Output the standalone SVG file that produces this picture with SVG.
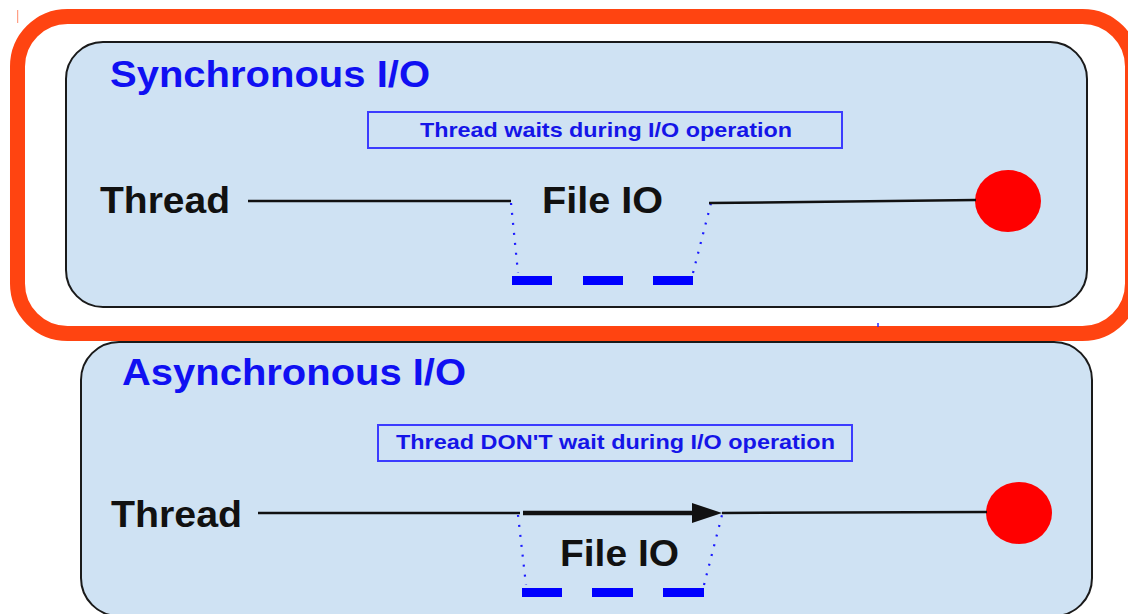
<svg xmlns="http://www.w3.org/2000/svg" width="1128" height="614" viewBox="0 0 1128 614">
  <defs>
    <style>
      .panel { fill: #cfe2f3; stroke: #1a1a1a; stroke-width: 2; }
      .title { font-family: "Liberation Sans", Arial, sans-serif; font-weight: bold; font-size: 37px; fill: #1010f2; }
      .note-box { fill: none; stroke: #3c3cff; stroke-width: 2; }
      .note { font-family: "Liberation Sans", Arial, sans-serif; font-weight: bold; font-size: 21px; fill: #1515e8; }
      .label { font-family: "Liberation Sans", Arial, sans-serif; font-weight: bold; font-size: 36px; fill: #111; }
      .wire { fill: none; stroke: #111; stroke-width: 2.5; }
      .wire-bold { fill: none; stroke: #111; stroke-width: 4.5; }
      .dots { fill: none; stroke: #1a1aff; stroke-width: 2.2; stroke-dasharray: 2 8; stroke-linecap: butt; }
      .io { fill: #0000ff; }
      .end { fill: #ff0000; }
    </style>
  </defs>

  <rect width="1128" height="614" fill="#ffffff"/>

  <!-- lower panel: asynchronous -->
  <g id="async-panel">
    <rect class="panel" x="81" y="342" width="1011" height="274" rx="38" ry="38"/>
    <text class="title" x="122" y="385" textLength="344" lengthAdjust="spacingAndGlyphs">Asynchronous I/O</text>
  </g>
  <g id="async-note">
    <rect class="note-box" x="378" y="425" width="474" height="36"/>
    <text class="note" x="396" y="449" textLength="439" lengthAdjust="spacingAndGlyphs">Thread DON'T wait during I/O operation</text>
  </g>
  <g id="async-thread">
    <text class="label" x="111" y="527" textLength="131" lengthAdjust="spacingAndGlyphs">Thread</text>
  </g>
  <g id="async-fileio">
    <text class="label" x="560" y="566" textLength="119" lengthAdjust="spacingAndGlyphs">File IO</text>
    <rect class="io" x="522" y="588" width="40" height="9"/>
    <rect class="io" x="592" y="588" width="41" height="9"/>
    <rect class="io" x="663" y="588" width="41" height="9"/>
  </g>
  <g id="async-end">
    <ellipse class="end" cx="1019" cy="513" rx="33" ry="31"/>
  </g>

  <!-- upper panel: synchronous -->
  <g id="sync-panel">
    <rect class="panel" x="66" y="42" width="1021" height="265" rx="37" ry="37"/>
    <text class="title" x="110" y="87" textLength="320" lengthAdjust="spacingAndGlyphs">Synchronous I/O</text>
  </g>
  <g id="sync-note">
    <rect class="note-box" x="368" y="112" width="474" height="36"/>
    <text class="note" x="420" y="137" textLength="372" lengthAdjust="spacingAndGlyphs">Thread waits during I/O operation</text>
  </g>
  <g id="sync-thread">
    <text class="label" x="100" y="213" textLength="130" lengthAdjust="spacingAndGlyphs">Thread</text>
  </g>
  <g id="sync-fileio">
    <text class="label" x="542" y="213" textLength="121" lengthAdjust="spacingAndGlyphs">File IO</text>
    <rect class="io" x="512" y="276" width="40" height="9"/>
    <rect class="io" x="583" y="276" width="40" height="9"/>
    <rect class="io" x="653" y="276" width="40" height="9"/>
  </g>
  <g id="sync-end">
    <ellipse class="end" cx="1008" cy="201" rx="33" ry="31"/>
  </g>

  <!-- timelines -->
  <g id="connectors">
    <path class="wire" d="M248 201 L511 201"/>
    <path class="dots" d="M511 203 L518 273"/>
    <path class="dots" d="M693 273 L711 203"/>
    <path class="wire" d="M709 203 L976 200"/>

    <path class="wire" d="M258 513 L520 513"/>
    <path class="wire-bold" d="M523 513 L696 513"/>
    <polygon fill="#111" points="692,503 722,513 692,523"/>
    <path class="wire" d="M722 513 L987 512"/>
    <path class="dots" d="M518 515 L526 585"/>
    <path class="dots" d="M704 585 L722 515"/>
  </g>

  <!-- highlight frame around the synchronous panel -->
  <g id="highlight">
    <rect x="17.5" y="16.5" width="1115" height="317" rx="50" ry="50" fill="none" stroke="#ff4411" stroke-width="15"/>
    <path d="M17.7 10 L17.7 23" stroke="#ff8a6a" stroke-width="1"/>
    <path d="M878 323 L878 327" stroke="#2a2aff" stroke-width="1.5"/>
  </g>
</svg>
